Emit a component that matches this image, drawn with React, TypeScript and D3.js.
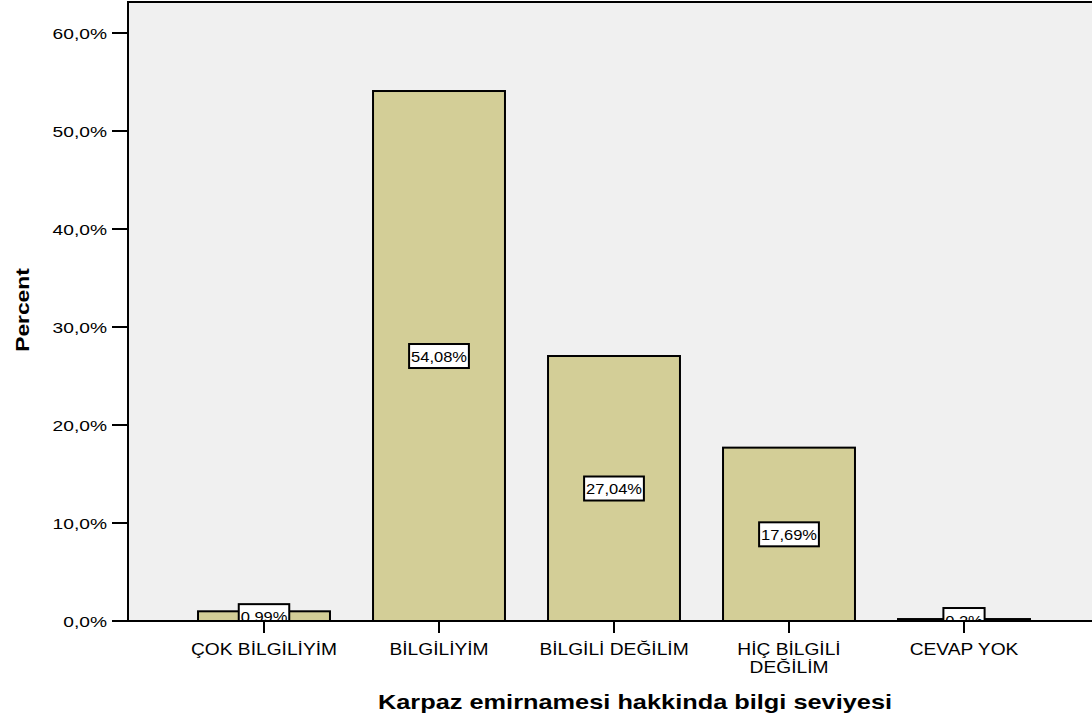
import React from "react";
import * as d3 from "d3";

const categories = ["ÇOK BİLGİLİYİM", "BİLGİLİYİM", "BİLGİLİ DEĞİLİM", "HİÇ BİLGİLİ DEĞİLİM", "CEVAP YOK"];
const categoryLines = [["ÇOK BİLGİLİYİM"], ["BİLGİLİYİM"], ["BİLGİLİ DEĞİLİM"], ["HİÇ BİLGİLİ", "DEĞİLİM"], ["CEVAP YOK"]];
const percents = [0.99, 54.08, 27.04, 17.69, 0.2];
const valueLabels = ["0.99%", "54,08%", "27,04%", "17,69%", "0,2%"];
const yTicks = [0, 10, 20, 30, 40, 50, 60];
const yTickLabels = ["0,0%", "10,0%", "20,0%", "30,0%", "40,0%", "50,0%", "60,0%"];

const W = 1092;
const H = 722;
const left = 128;
const top = 2;
const bottom = 621;
const right = 1100;

function SText({ x, y, sx, children, anchor = "middle", size = 15, weight = "normal", rotate = 0 }: any) {
  return (
    <text
      transform={`translate(${x},${y}) rotate(${rotate}) scale(${sx},1)`}
      textAnchor={anchor}
      fontSize={size}
      fontWeight={weight}
      fill="#000"
    >
      {children}
    </text>
  );
}

export default function App() {
  const y = d3.scaleLinear().domain([0, 60]).range([bottom, 33]);
  const x = d3
    .scaleBand<string>()
    .domain(categories)
    .range([176.5, 1051.5])
    .paddingInner(0.246)
    .paddingOuter(0.123);
  const font = "'Liberation Sans', Arial, sans-serif";

  return (
    <svg width={W} height={H} style={{ position: "absolute", left: 0, top: 0, display: "block" }} fontFamily={font}>
      <defs>
        <clipPath id="plotclip">
          <rect x={left} y={top} width={right - left} height={bottom - top} />
        </clipPath>
      </defs>
      <rect x={0} y={0} width={W} height={H} fill="#ffffff" />
      <rect x={left} y={top} width={right - left} height={bottom - top} fill="#f0f0f0" stroke="#000" strokeWidth={2} />
      <g clipPath="url(#plotclip)">
        {categories.map((c, i) => (
          <rect
            key={c}
            x={x(c)}
            y={y(percents[i])}
            width={x.bandwidth()}
            height={bottom - y(percents[i])}
            fill="#d3ce97"
            stroke="#000"
            strokeWidth={2}
          />
        ))}
        {categories.map((c, i) => {
          const cx = (x(c) as number) + x.bandwidth() / 2;
          const cy = (y(percents[i]) + bottom) / 2;
          const w = valueLabels[i].length * 9.3 + 4;
          return (
            <g key={"l" + c}>
              <rect x={cx - w / 2} y={cy - 12} width={w} height={24} fill="#fff" stroke="#000" strokeWidth={2} />
              <SText x={cx} y={cy + 5.5} sx={1.1} size={15}>
                {valueLabels[i]}
              </SText>
            </g>
          );
        })}
      </g>
      <line x1={left} x2={right} y1={bottom} y2={bottom} stroke="#000" strokeWidth={2} />
      <line x1={left} x2={left} y1={top} y2={bottom} stroke="#000" strokeWidth={2} />
      {yTicks.map((t, i) => (
        <g key={t}>
          <line x1={112} x2={left} y1={y(t)} y2={y(t)} stroke="#000" strokeWidth={2} />
          <SText x={107} y={y(t) + 5.5} sx={1.28} anchor="end" size={15}>
            {yTickLabels[i]}
          </SText>
        </g>
      ))}
      {categories.map((c, i) => {
        const cx = (x(c) as number) + x.bandwidth() / 2;
        return (
          <g key={"t" + c}>
            <line x1={cx} x2={cx} y1={bottom} y2={633} stroke="#000" strokeWidth={2} />
            {categoryLines[i].map((ln, j) => (
              <SText key={j} x={cx} y={654.5 + j * 18} sx={1.2} size={16}>
                {ln}
              </SText>
            ))}
          </g>
        );
      })}
      <SText x={635} y={709} sx={1.3} size={19.5} weight="bold">
        Karpaz emirnamesi hakkinda bilgi seviyesi
      </SText>
      <SText x={29} y={310} sx={1.2} size={19} weight="bold" rotate={-90}>
        Percent
      </SText>
    </svg>
  );
}
